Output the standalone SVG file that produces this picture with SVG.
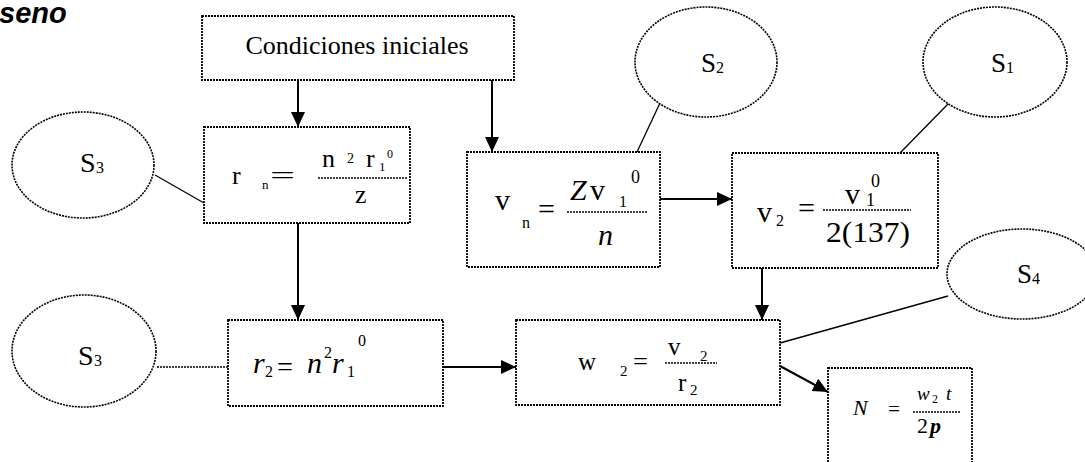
<svg xmlns="http://www.w3.org/2000/svg" width="1085" height="462" viewBox="0 0 1085 462">
<style>
.box{fill:#fff;stroke:#000;stroke-width:1.8;stroke-dasharray:2 1}
.ell{fill:#fff;stroke:#000;stroke-width:1.6;stroke-dasharray:2 1}
.fl{stroke:#000;stroke-width:1.6;stroke-dasharray:2 1}
.ln{stroke:#000;stroke-width:1.3;fill:none}
.ar{stroke:#000;stroke-width:2;fill:none;marker-end:url(#ah)}
text{font-family:"Liberation Serif","Times New Roman",serif;fill:#000}
.i{font-style:italic}
</style>
<defs>
<marker id="ah" markerUnits="userSpaceOnUse" markerWidth="16" markerHeight="16" refX="15" refY="7" orient="auto">
<path d="M0,0 L15,7 L0,14 z" fill="#000"/>
</marker>
</defs>
<text x="-1" y="23" style="font-family:'Liberation Sans',Arial,sans-serif;font-weight:bold;font-style:italic;font-size:29px">seno</text>
<g id="connectors">
<line class="ln" x1="155" y1="175" x2="204" y2="203"/>
<line class="ln" x1="660" y1="103" x2="637" y2="152"/>
<line class="ln" x1="949" y1="103" x2="900" y2="153"/>
<line class="fl" x1="157" y1="367" x2="228" y2="367"/>
<line class="ln" x1="948" y1="296" x2="780" y2="343"/>
<line class="ar" x1="298" y1="80" x2="298" y2="127"/>
<line class="ar" x1="492" y1="80" x2="492" y2="152"/>
<line class="ar" x1="298" y1="223" x2="298" y2="320"/>
<line class="ar" x1="660" y1="199" x2="732" y2="199"/>
<line class="ar" x1="762" y1="268" x2="762" y2="320"/>
<line class="ar" x1="443" y1="367" x2="516" y2="367"/>
<line class="ar" x1="780" y1="366" x2="828" y2="392"/>
</g>
<g id="condiciones">
<rect class="box" x="202" y="16" width="312" height="64"/>
<text x="357" y="54" text-anchor="middle" font-size="26">Condiciones iniciales</text>
</g>
<g id="s3top">
<ellipse class="ell" cx="83" cy="165" rx="71" ry="53"/>
<text y="172" font-size="28"><tspan x="80">S</tspan><tspan x="96" y="173" font-size="16">3</tspan></text>
</g>
<g id="s3bottom">
<ellipse class="ell" cx="84" cy="351" rx="72" ry="56"/>
<text y="365" font-size="28"><tspan x="78">S</tspan><tspan x="94" y="366" font-size="16">3</tspan></text>
</g>
<g id="s2">
<ellipse class="ell" cx="706" cy="62" rx="71" ry="55"/>
<text y="72" font-size="27"><tspan x="701">S</tspan><tspan x="716" y="73" font-size="16">2</tspan></text>
</g>
<g id="s1">
<ellipse class="ell" cx="995" cy="62" rx="72" ry="55"/>
<text y="72" font-size="27"><tspan x="991">S</tspan><tspan x="1006" y="73" font-size="16">1</tspan></text>
</g>
<g id="s4">
<ellipse class="ell" cx="1022" cy="274" rx="75" ry="45"/>
<text y="283" font-size="27"><tspan x="1017">S</tspan><tspan x="1032" y="284" font-size="16">4</tspan></text>
</g>
<g id="rn">
<rect class="box" x="204" y="127" width="206" height="96"/>
<text x="232" y="184" font-size="26">r</text>
<text x="262" y="189" font-size="13">n</text>
<text x="270" y="184" font-size="26" textLength="25" lengthAdjust="spacingAndGlyphs">=</text>
<line class="fl" x1="318" y1="178" x2="407" y2="178"/>
<text x="322" y="167" font-size="26">n</text>
<text x="347" y="163" font-size="14">2</text>
<text x="366" y="167" font-size="26">r</text>
<text x="379" y="171" font-size="13">1</text>
<text x="387" y="158" font-size="12">0</text>
<text x="355" y="203" font-size="26">z</text>
</g>
<g id="vn">
<rect class="box" x="467" y="152" width="193" height="115"/>
<text x="495" y="210" font-size="30">v</text>
<text x="522" y="228" font-size="16">n</text>
<text x="538" y="219" font-size="30" textLength="17" lengthAdjust="spacingAndGlyphs">=</text>
<line class="fl" x1="567" y1="212" x2="647" y2="212"/>
<text x="570" y="200" font-size="30" class="i">Z</text>
<text x="590" y="200" font-size="30">v</text>
<text x="619" y="207" font-size="16">1</text>
<text x="631" y="183" font-size="18">0</text>
<text x="598" y="245" font-size="30" class="i">n</text>
</g>
<g id="v2">
<rect class="box" x="732" y="153" width="206" height="115"/>
<text x="757" y="222" font-size="30">v</text>
<text x="776" y="226" font-size="16">2</text>
<text x="798" y="218" font-size="30" textLength="17" lengthAdjust="spacingAndGlyphs">=</text>
<line class="fl" x1="823" y1="210" x2="911" y2="210"/>
<text x="845" y="204" font-size="30">v</text>
<text x="866" y="206" font-size="18">1</text>
<text x="871" y="187" font-size="18">0</text>
<text x="826" y="242" font-size="30" textLength="84" lengthAdjust="spacingAndGlyphs">2(137)</text>
</g>
<g id="r2">
<rect class="box" x="228" y="320" width="215" height="86"/>
<text x="253" y="373" font-size="30" class="i">r</text>
<text x="265" y="377" font-size="16">2</text>
<text x="277" y="376" font-size="28" textLength="16" lengthAdjust="spacingAndGlyphs">=</text>
<text x="307" y="373" font-size="30" class="i">n</text>
<text x="324" y="358" font-size="16">2</text>
<text x="332" y="373" font-size="30" class="i">r</text>
<text x="347" y="377" font-size="16">1</text>
<text x="358" y="346" font-size="16">0</text>
</g>
<g id="w2">
<rect class="box" x="516" y="320" width="264" height="85"/>
<text x="578" y="370" font-size="25">w</text>
<text x="620" y="376" font-size="15">2</text>
<text x="633" y="370" font-size="25" textLength="15" lengthAdjust="spacingAndGlyphs">=</text>
<line class="fl" x1="665" y1="363" x2="717" y2="363"/>
<text x="668" y="355" font-size="25">v</text>
<text x="700" y="361" font-size="15">2</text>
<text x="678" y="391" font-size="25">r</text>
<text x="690" y="395" font-size="15">2</text>
</g>
<g id="nbox">
<rect class="box" x="828" y="368" width="144" height="110"/>
<text x="853" y="415" font-size="22" class="i">N</text>
<text x="888" y="416" font-size="20" textLength="12" lengthAdjust="spacingAndGlyphs">=</text>
<line class="fl" x1="913" y1="412" x2="960" y2="412"/>
<text x="917" y="400" font-size="19" class="i">w</text>
<text x="932" y="403" font-size="12">2</text>
<text x="946" y="400" font-size="19" class="i">t</text>
<text x="917" y="433" font-size="22">2</text>
<text x="930" y="433" font-size="22" font-weight="bold" class="i">p</text>
</g>
</svg>
